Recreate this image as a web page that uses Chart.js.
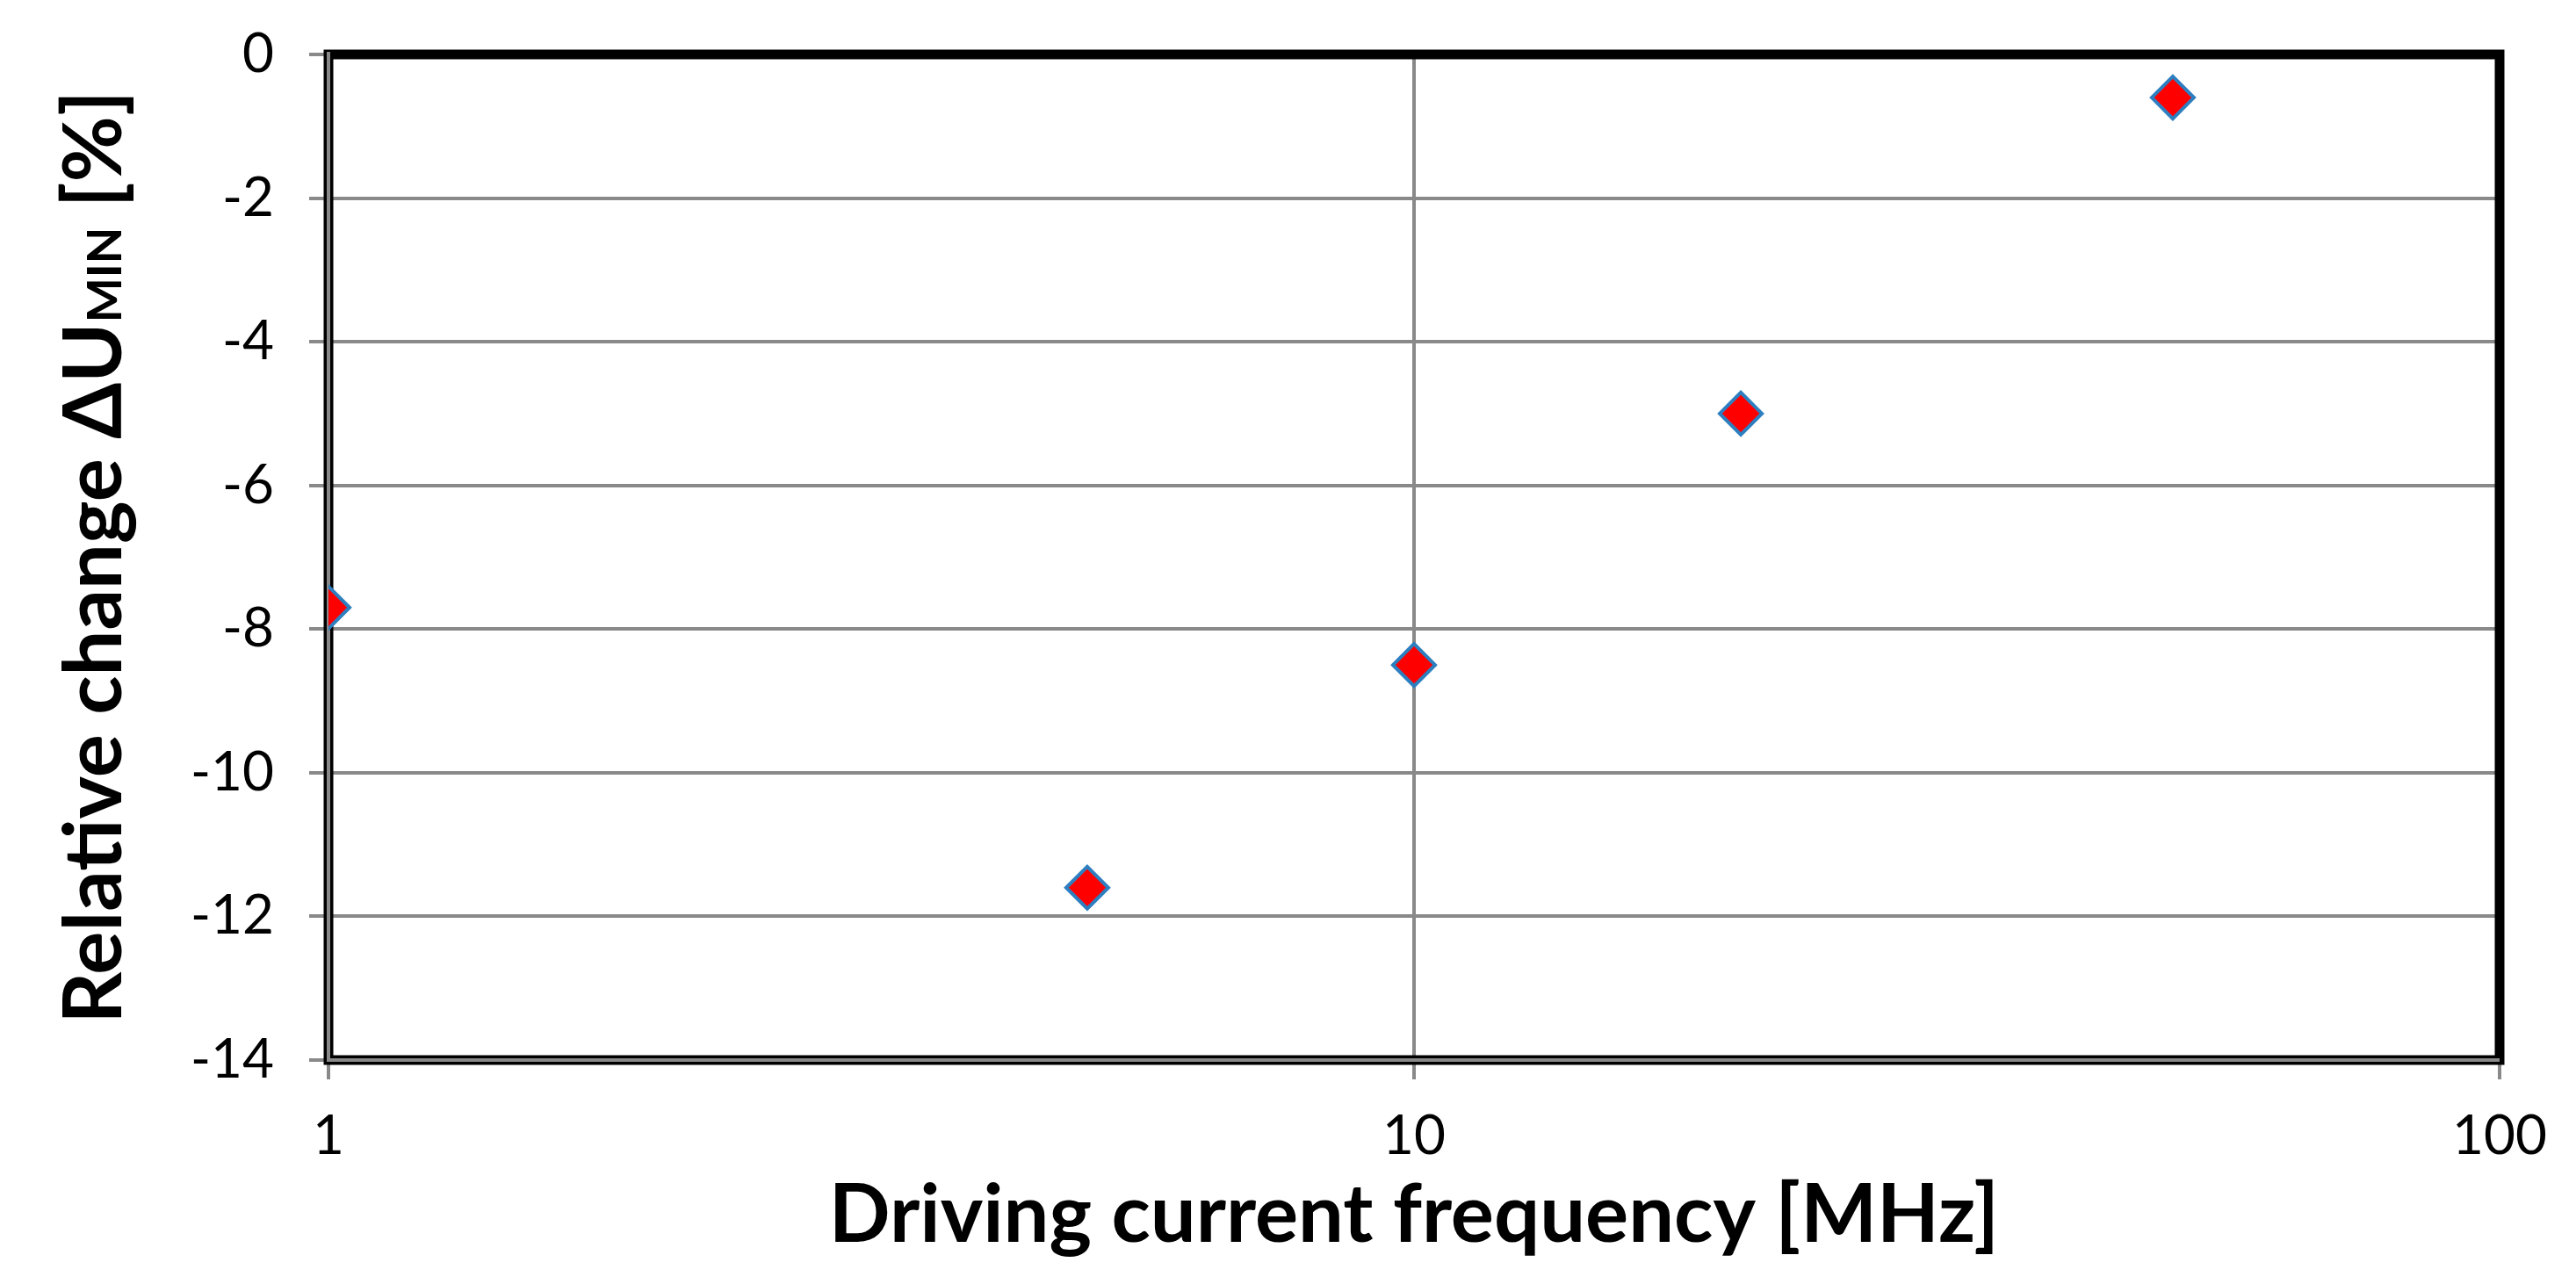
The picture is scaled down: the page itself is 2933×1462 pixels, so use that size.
<!DOCTYPE html>
<html>
<head>
<meta charset="utf-8">
<script src="https://cdn.jsdelivr.net/npm/chart.js@4"></script>
<style>
html,body{margin:0;padding:0;background:#fff;}
#wrap{width:2933px;height:1462px;}
</style>
</head>
<body>
<div id="wrap"><canvas id="myChart"></canvas></div>
<script>
// data
const freqs = [1, 5, 10, 20, 50];                 // MHz
const deltaU = [-7.7, -11.6, -8.5, -5.0, -0.6];   // %
const xTicks = [1, 10, 100];
const yTicks = [-14, -12, -10, -8, -6, -4, -2, 0];
const xTitle = 'Driving current frequency [MHz]';
const yTitleParts = ['Relative change \u0394U', 'MIN', ' [%]'];

const gray = '#898989';

// black box round the plot, gray axis lines on top of it
const frame = {
    id: 'frame',
    beforeDatasetsDraw(chart){
        const {ctx, chartArea: a} = chart;
        ctx.save();
        ctx.strokeStyle = '#000';
        ctx.lineWidth = 11;
        ctx.strokeRect(a.left, a.top, a.right - a.left, a.bottom - a.top);
        ctx.strokeStyle = gray;
        ctx.lineWidth = 4;
        ctx.beginPath();
        ctx.moveTo(a.left, a.top - 3);
        ctx.lineTo(a.left, a.bottom);
        ctx.lineTo(a.right, a.bottom);
        ctx.stroke();
        ctx.restore();
    }
};

// y title with small caps "MIN"
const yTitle = {
    id: 'yTitle',
    afterDraw(chart){
        const ctx = chart.ctx;
        const big = 'bold 92px Lato', small = 'bold 54px Lato';
        ctx.save();
        ctx.font = big;
        const w1 = ctx.measureText(yTitleParts[0]).width;
        const w3 = ctx.measureText(yTitleParts[2]).width;
        ctx.font = small;
        const w2 = ctx.measureText(yTitleParts[1]).width;
        const total = w1 + w2 + w3;
        const cy = (chart.chartArea.top + chart.chartArea.bottom) / 2;
        ctx.translate(138, cy);
        ctx.rotate(-Math.PI / 2);
        ctx.textBaseline = 'alphabetic';
        ctx.textAlign = 'left';
        ctx.fillStyle = '#000';
        let x = -total / 2;
        ctx.font = big;   ctx.fillText(yTitleParts[0], x, 0); x += w1;
        ctx.font = small; ctx.fillText(yTitleParts[1], x, 0); x += w2;
        ctx.font = big;   ctx.fillText(yTitleParts[2], x, 0);
        ctx.restore();
    }
};

const tickFont = {family: 'Lato', size: 62};

window.myChart = new Chart(document.getElementById('myChart'), {
    type: 'scatter',
    data: {
        datasets: [{
            data: freqs.map((f, i) => ({x: f, y: deltaU[i]})),
            pointStyle: 'rectRot',
            pointRadius: 24,
            pointHoverRadius: 24,
            backgroundColor: '#ff0000',
            borderColor: '#2e7fc0',
            borderWidth: 4
        }]
    },
    options: {
        responsive: true,
        maintainAspectRatio: false,
        animation: false,
        layout: {padding: {top: 62, right: 87, left: 0, bottom: 0}},
        plugins: {legend: {display: false}, tooltip: {enabled: false}},
        scales: {
            x: {
                type: 'logarithmic',
                min: 1,
                max: 100,
                afterBuildTicks: s => { s.ticks = xTicks.map(v => ({value: v})); },
                afterFit: s => { s.height = 255; s.paddingLeft = 0; s.paddingRight = 0; },
                grid: {color: gray, lineWidth: 4, tickLength: 22},
                border: {color: gray, width: 4},
                ticks: {font: tickFont, color: '#000', padding: 28, maxRotation: 0, autoSkip: false,
                        callback: v => String(v)},
                title: {display: true, text: xTitle, color: '#000',
                        font: {family: 'Lato', size: 92, weight: 'bold'},
                        padding: {top: 0, bottom: 22}}
            },
            y: {
                min: -14,
                max: 0,
                afterBuildTicks: s => { s.ticks = yTicks.map(v => ({value: v})); },
                afterFit: s => { s.width = 374; s.paddingTop = 0; s.paddingBottom = 0; },
                grid: {color: gray, lineWidth: 4, tickLength: 22},
                border: {color: gray, width: 4},
                ticks: {font: tickFont, color: '#000', padding: 40, callback: v => String(v)}
            }
        }
    },
    plugins: [frame, yTitle]
});
</script>
</body>
</html>
